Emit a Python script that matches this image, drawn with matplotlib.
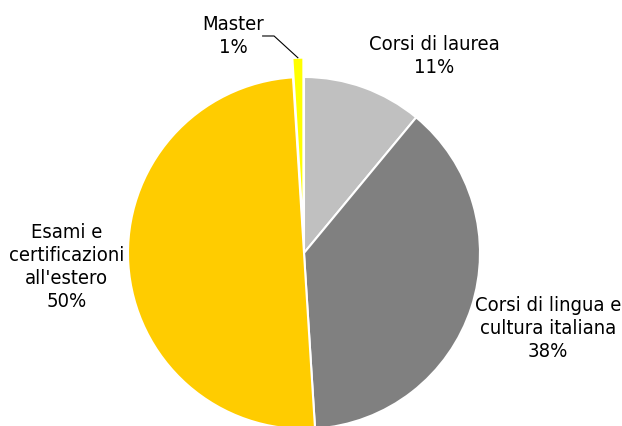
import matplotlib.pyplot as plt
import numpy as np

# data (percent shares)
categories = ["Corsi di laurea", "Corsi di lingua e\ncultura italiana",
              "Esami e\ncertificazioni\nall'estero", "Master"]
shares = [11, 38, 50, 1]
colors = ["#C0C0C0", "#808080", "#FFCC00", "#FFFF00"]
explode = [0, 0, 0, 0.11]

# label positions in pie-radius units (centre of each text block)
label_pos = [(0.74, 1.12), (1.385, -0.43), (-1.35, -0.08), (-0.40, 1.235)]

plt.rcParams['font.family'] = ['DejaVu Sans']

W, H = 622, 426
fig = plt.figure(figsize=(W / 100, H / 100), dpi=100)
ax = fig.add_axes([0, 0, 1, 1])

# pie centre and radius in pixels
cx, cy, r = 304, 253, 176

wedges, _ = ax.pie(shares, colors=colors, explode=explode, startangle=90,
                   counterclock=False,
                   wedgeprops=dict(edgecolor='white', linewidth=1.5))

ax.set_xlim(-cx / r, (W - cx) / r)
ax.set_ylim((cy - H) / r, cy / r)
ax.set_aspect('auto')
ax.axis('off')

for name, val, (x, y) in zip(categories, shares, label_pos):
    ax.text(x, y, f"{name}\n{val}%", ha='center', va='center',
            fontsize=14.5, fontstretch='condensed', linespacing=1.25,
            color='black')

# leader line for the small Master slice
m = wedges[3]
mid = np.deg2rad((m.theta1 + m.theta2) / 2)
tip = ((1 + explode[3]) * np.cos(mid), (1 + explode[3]) * np.sin(mid))
ax.plot([-0.235, -0.17, tip[0]], [1.233, 1.233, tip[1]], color='black', lw=0.8)

fig.savefig("out.png", dpi=100)
